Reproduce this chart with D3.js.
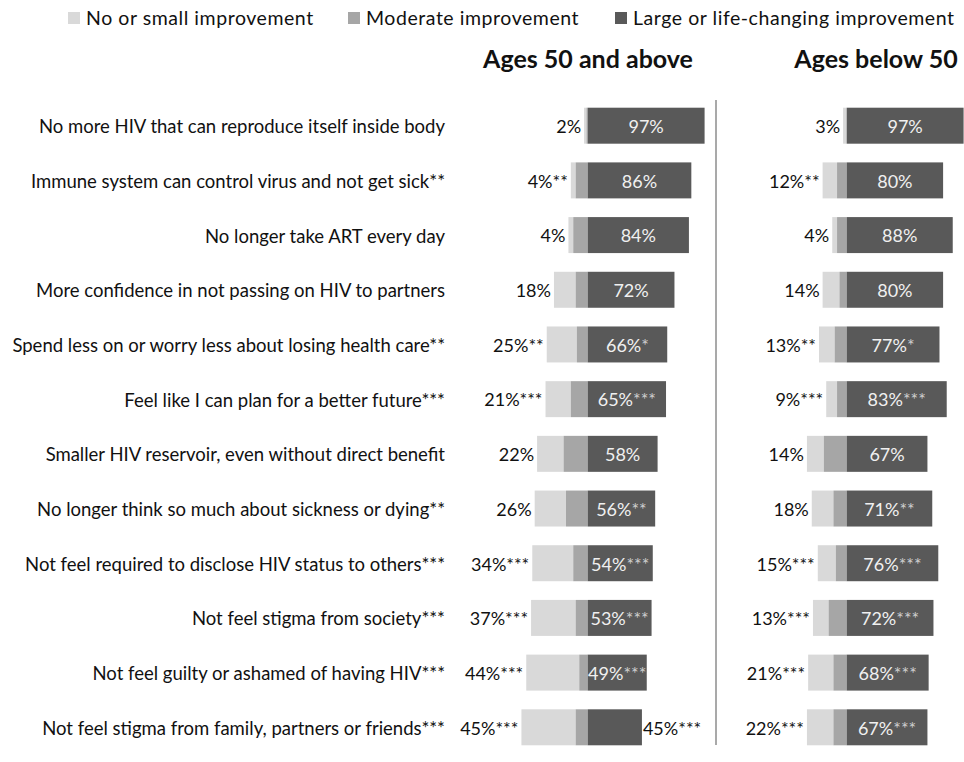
<!DOCTYPE html>
<html>
<head>
<meta charset="utf-8">
<script src="https://cdn.jsdelivr.net/npm/d3@7"></script>
<style>
  html, body { margin: 0; padding: 0; background: #fff; }
  svg { display: block; }
</style>
</head>
<body>
<div id="chart"></div>
<script>
// categories, top to bottom
var categories = [
    "No more HIV that can reproduce itself inside body",
    "Immune system can control virus and not get sick**",
    "No longer take ART every day",
    "More confidence in not passing on HIV to partners",
    "Spend less on or worry less about losing health care**",
    "Feel like I can plan for a better future***",
    "Smaller HIV reservoir, even without direct benefit",
    "No longer think so much about sickness or dying**",
    "Not feel required to disclose HIV status to others***",
    "Not feel stigma from society***",
    "Not feel guilty or ashamed of having HIV***",
    "Not feel stigma from family, partners or friends***"
];

var seriesNames = ["No or small improvement", "Moderate improvement", "Large or life-changing improvement"];
var panelTitles = ["Ages 50 and above", "Ages below 50"];

// Ages 50 and above
var smallOld    = [2, 4, 4, 18, 25, 21, 22, 26, 34, 37, 44, 45];
var moderateOld = [1, 10, 12, 10, 9, 14, 20, 18, 12, 10, 7, 10];
var largeOld    = [97, 86, 84, 72, 66, 65, 58, 56, 54, 53, 49, 45];
var sigSmallOld = ["", "**", "", "", "**", "***", "", "", "***", "***", "***", "***"];
var sigLargeOld = ["", "", "", "", "*", "***", "", "**", "***", "***", "***", "***"];

// Ages below 50
var smallYoung    = [3, 12, 4, 14, 13, 9, 14, 18, 15, 13, 21, 22];
var moderateYoung = [0, 8, 8, 6, 10, 8, 19, 11, 9, 15, 11, 11];
var largeYoung    = [97, 80, 88, 80, 77, 83, 67, 71, 76, 72, 68, 67];
var sigSmallYoung = ["", "**", "", "", "**", "***", "", "", "***", "***", "***", "***"];
var sigLargeYoung = ["", "", "", "", "*", "***", "", "**", "***", "***", "***", "***"];

var width = 964,
    height = 762;

var colors = ["#d9d9d9", "#a6a6a6", "#595959"];
var labelFont = "Lato, 'Liberation Sans', sans-serif";

var svg = d3.select("#chart").append("svg")
    .attr("width", width)
    .attr("height", height);

var y = d3.scaleBand()
    .domain(categories)
    .range([89, 764])
    .padding(0.342);

var panels = [
    {title: panelTitles[0], titleX: 588, small: smallOld, moderate: moderateOld, large: largeOld,
     sigSmall: sigSmallOld, sigLarge: sigLargeOld, x: d3.scaleLinear().domain([-60, 100]).range([515.4, 708.2])},
    {title: panelTitles[1], titleX: 876, small: smallYoung, moderate: moderateYoung, large: largeYoung,
     sigSmall: sigSmallYoung, sigLarge: sigLargeYoung, x: d3.scaleLinear().domain([-60, 100]).range([774.4, 967.2])}
];

// legend
var legendX = [68, 348, 615];
var legend = svg.append("g").selectAll("g")
    .data(seriesNames)
    .enter().append("g")
    .attr("transform", function(d, i) { return "translate(" + legendX[i] + ",12)"; });

legend.append("rect")
    .attr("width", 12)
    .attr("height", 12)
    .attr("fill", function(d, i) { return colors[i]; });

legend.append("text")
    .attr("x", 18)
    .attr("y", 6)
    .attr("dy", "0.35em")
    .attr("font-family", labelFont)
    .attr("font-size", 19.5)
    .attr("letter-spacing", 0.55)
    .attr("fill", "#111")
    .text(function(d) { return d; });

// category labels
svg.append("g").selectAll("text")
    .data(categories)
    .enter().append("text")
    .attr("x", 445)
    .attr("y", function(d) { return y(d) + y.bandwidth() / 2 + 1; })
    .attr("dy", "0.35em")
    .attr("text-anchor", "end")
    .attr("font-family", labelFont)
    .attr("font-size", 18.5)
    .attr("fill", "#111")
    .text(function(d) { return d; });

// divider between panels
svg.append("line")
    .attr("x1", 716).attr("x2", 716)
    .attr("y1", 100).attr("y2", 745)
    .attr("stroke", "#8c8c8c")
    .attr("stroke-width", 1.5);

panels.forEach(function(p) {
    var x = p.x;
    var g = svg.append("g");

    g.append("text")
        .attr("x", p.titleX)
        .attr("y", 68)
        .attr("text-anchor", "middle")
        .attr("font-family", labelFont)
        .attr("font-weight", "bold")
        .attr("font-size", 25)
        .attr("fill", "#111")
        .text(p.title);

    var rows = categories.map(function(c, i) {
        return {cat: c, small: p.small[i], moderate: p.moderate[i], large: p.large[i],
                sigSmall: p.sigSmall[i], sigLarge: p.sigLarge[i]};
    });

    var row = g.selectAll(".row")
        .data(rows)
        .enter().append("g")
        .attr("class", "row")
        .attr("transform", function(d) { return "translate(0," + y(d.cat) + ")"; });

    // light segment (leftmost)
    row.append("rect")
        .attr("x", function(d) { return x(-(d.small + d.moderate)); })
        .attr("width", function(d) { return x(d.small) - x(0); })
        .attr("height", y.bandwidth())
        .attr("fill", colors[0]);

    // moderate segment
    row.append("rect")
        .attr("x", function(d) { return x(-d.moderate); })
        .attr("width", function(d) { return x(0) - x(-d.moderate); })
        .attr("height", y.bandwidth())
        .attr("fill", colors[1]);

    // large segment
    row.append("rect")
        .attr("x", x(0))
        .attr("width", function(d) { return x(d.large) - x(0); })
        .attr("height", y.bandwidth())
        .attr("fill", colors[2]);

    // value of the light segment, left of the bar
    row.append("text")
        .attr("x", function(d) { return x(-(d.small + d.moderate)) - 3; })
        .attr("y", y.bandwidth() / 2 + 1)
        .attr("dy", "0.35em")
        .attr("text-anchor", "end")
        .attr("font-family", labelFont)
        .attr("font-size", 18)
        .attr("fill", "#111")
        .text(function(d) { return d.small + "%" + d.sigSmall; });

    // value of the large segment; goes outside when the bar is too short
    var big = row.append("text")
        .attr("y", y.bandwidth() / 2 + 1)
        .attr("dy", "0.35em")
        .attr("font-family", labelFont)
        .attr("font-size", 18);

    big.each(function(d) {
        var t = d3.select(this);
        var outside = d.large <= 45;
        if (outside) {
            t.attr("x", x(d.large) + 1).attr("text-anchor", "start").attr("fill", "#111");
        } else {
            t.attr("x", (x(0) + x(d.large)) / 2).attr("text-anchor", "middle").attr("fill", "#f0f0f0");
        }
        t.append("tspan").text(d.large + "%");
        if (d.sigLarge) {
            t.append("tspan")
                .attr("fill", outside ? "#111" : "#cfcfcf")
                .text(d.sigLarge);
        }
    });
});
</script>
</body>
</html>
